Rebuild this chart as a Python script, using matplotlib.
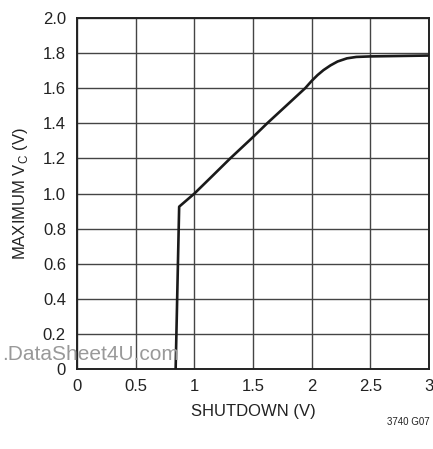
from matplotlib import pyplot as plt
from matplotlib import font_manager

# curve
shutdown_v = [0.84, 0.87, 1.0, 1.15, 1.305, 1.5, 1.62, 1.8, 1.944, 2.0, 2.05, 2.1, 2.16, 2.22, 2.3, 2.38, 2.5, 3.0]
max_vc = [0.0, 0.925, 1.0, 1.098, 1.2, 1.322, 1.4, 1.511, 1.6, 1.642, 1.675, 1.703, 1.73, 1.752, 1.77, 1.778, 1.781, 1.786]

x_ticks = [0, 0.5, 1, 1.5, 2, 2.5, 3]
x_ticklabels = ['0', '0.5', '1', '1.5', '2', '2.5', '3']
y_ticks = [0, 0.2, 0.4, 0.6, 0.8, 1.0, 1.2, 1.4, 1.6, 1.8, 2.0]
y_ticklabels = ['0', '0.2', '0.4', '0.6', '0.8', '1.0', '1.2', '1.4', '1.6', '1.8', '2.0']

names = {f.name for f in font_manager.fontManager.ttflist}
fam = 'Liberation Sans Narrow' if 'Liberation Sans Narrow' in names else 'Liberation Sans'
plt.rcParams['font.family'] = [fam, 'DejaVu Sans']
plt.rcParams['mathtext.fontset'] = 'custom'
plt.rcParams['mathtext.rm'] = fam

fig = plt.figure(figsize=(4.33, 4.49), dpi=100)
ax = fig.add_axes([0.178, 0.178, 0.813, 0.782])

ax.plot(shutdown_v, max_vc, color='#1a1a1a', lw=1.9, solid_joinstyle='round', zorder=3)

ax.set_xlim(0, 3)
ax.set_ylim(0, 2)
ax.set_xticks(x_ticks)
ax.set_xticklabels(x_ticklabels)
ax.set_yticks(y_ticks)
ax.set_yticklabels(y_ticklabels)
ax.tick_params(length=0, labelsize=12, colors='#222222')
ax.tick_params(axis='x', pad=7)
ax.tick_params(axis='y', pad=8)
ax.grid(True, color='#444444', lw=1.0)
for s in ax.spines.values():
    s.set_linewidth(1.4)
    s.set_color('#222222')

ax.set_xlabel('SHUTDOWN (V)', fontsize=12, color='#222222', labelpad=7)
ax.set_ylabel(r'MAXIMUM V$_\mathregular{C}$ (V)', fontsize=12, color='#222222', labelpad=9)

# watermark, its "www" is cut off at the left edge in the scan
fig.text(0.004, 0.21, '.DataSheet4U.com', ha='left', va='center', fontsize=15,
         color='#999999', family='Liberation Sans')
fig.text(0.993, 0.06, '3740 G07', ha='right', va='center', fontsize=7, color='#222222')

plt.savefig('out.png', dpi=100)
plt.close()
